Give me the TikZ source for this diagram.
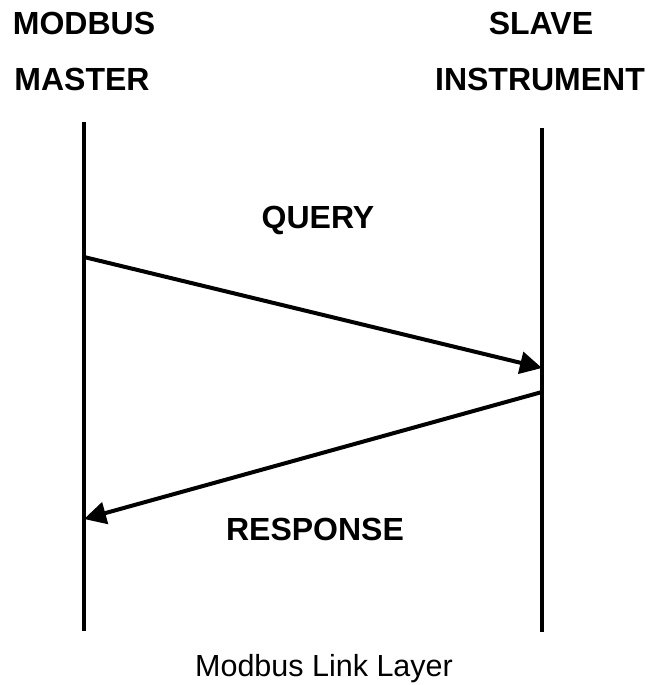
\documentclass[tikz,border=0pt]{standalone}
\usepackage{fontspec}
\setmainfont{Liberation Sans}
\usetikzlibrary{arrows.meta}
\begin{document}
\begin{tikzpicture}[x=1pt,y=-1pt,
  lifeline/.style={line width=4pt},
  msg/.style={line width=4pt,-{Triangle[length=22pt,width=22pt]}},
  head/.style={anchor=base,font=\fontsize{32}{36}\selectfont\bfseries,inner sep=0pt},
  lbl/.style={anchor=base,font=\fontsize{32}{36}\selectfont\bfseries,inner sep=0pt},
  captext/.style={anchor=base,font=\fontsize{30.5}{34}\selectfont,inner sep=0pt}]
\useasboundingbox (0,0) rectangle (649,685);
% lifelines
\coordinate (mtop) at (84,122);
\coordinate (mbot) at (84,631);
\coordinate (stop) at (542,128);
\coordinate (sbot) at (542,632);
\draw[lifeline] (mtop) -- (mbot);
\draw[lifeline] (stop) -- (sbot);
% headings
\node[head] (h1) at (84,35) {MODBUS};
\node[head] (h2) at (82,90) {MASTER};
\node[head] (h3) at (541,35) {SLAVE};
\node[head] (h4) at (540,90) {INSTRUMENT};
% messages
\coordinate (qs) at (84,257);
\coordinate (qe) at (542,368);
\coordinate (rs) at (542,392);
\coordinate (re) at (84,519);
\draw[msg] (qs) -- (qe);
\draw[msg] (rs) -- (re);
\node[lbl] (q) at (318,228) {QUERY};
\node[lbl] (r) at (315,540) {RESPONSE};
\node[captext] (c) at (324,676) {Modbus Link Layer};
\end{tikzpicture}
\end{document}
